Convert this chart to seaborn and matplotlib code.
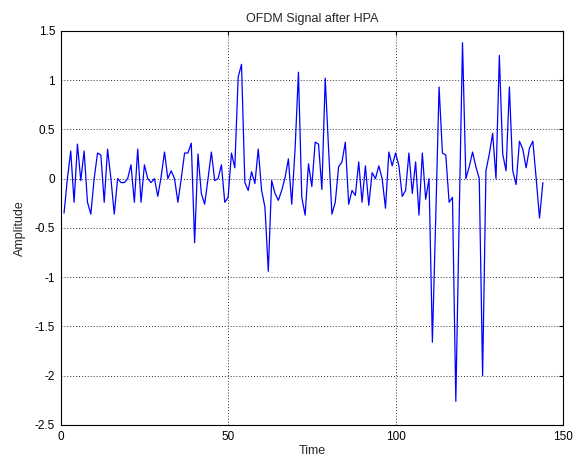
import numpy as np
import pandas as pd
import seaborn as sns
import matplotlib
matplotlib.use("Agg")
import matplotlib.pyplot as plt

# sample index (1..144) and HPA output amplitude
time = list(range(1, 145))
amplitude = [
    -0.35, 0.0, 0.28, -0.24, 0.35, -0.02, 0.28, -0.24, -0.36, 0.0,
    0.26, 0.24, -0.24, 0.30, 0.0, -0.36, 0.0, -0.04, -0.04, 0.0,
    0.14, -0.24, 0.30, -0.24, 0.14, 0.0, -0.04, 0.0, -0.18, 0.02,
    0.27, 0.0, 0.08, 0.0, -0.24, 0.0, 0.26, 0.26, 0.36, -0.65,
    0.25, -0.15, -0.26, 0.0, 0.27, -0.02, 0.0, 0.14, -0.24, -0.19,
    0.26, 0.11, 1.03, 1.16, -0.04, -0.12, 0.07, -0.05, 0.30, -0.12,
    -0.29, -0.94, -0.02, -0.15, -0.22, -0.12, 0.01, 0.20, -0.26, 0.30,
    1.08, -0.19, -0.37, 0.15, -0.08, 0.37, 0.35, -0.11, 1.02, 0.30,
    -0.36, -0.24, 0.12, 0.17, 0.37, -0.26, -0.12, -0.17, 0.17, -0.24,
    0.13, -0.27, 0.06, 0.0, 0.13, 0.0, -0.30, 0.27, 0.13, 0.26,
    0.13, -0.18, -0.12, 0.26, -0.15, 0.17, -0.37, 0.26, -0.21, 0.0,
    -1.66, -0.40, 0.93, 0.26, 0.24, -0.24, -0.19, -2.26, -0.40, 1.38,
    0.0, 0.12, 0.27, 0.12, 0.0, -2.0, 0.08, 0.25, 0.46, 0.0,
    1.25, 0.25, 0.08, 0.93, 0.08, -0.06, 0.38, 0.30, 0.11, 0.31,
    0.38, 0.0, -0.40, -0.04,
]
x_ticks = [0, 50, 100, 150]
y_ticks = [-2.5, -2, -1.5, -1, -0.5, 0, 0.5, 1, 1.5]
y_tick_labels = ["-2.5", "-2", "-1.5", "-1", "-0.5", "0", "0.5", "1", "1.5"]

df = pd.DataFrame({"Time": time, "Amplitude": amplitude})

sns.set_style("white")
plt.rcParams["font.family"] = ["Liberation Sans", "DejaVu Sans"]

fig = plt.figure(figsize=(5.78, 4.67), dpi=100)
ax = fig.add_axes([0.105, 0.09, 0.869, 0.844])

sns.lineplot(data=df, x="Time", y="Amplitude", color="#0000ff", linewidth=0.9, ax=ax)

ax.set_xlim(0, 150)
ax.set_ylim(-2.5, 1.5)
ax.set_xticks(x_ticks)
ax.set_yticks(y_ticks)
ax.set_yticklabels(y_tick_labels)
ax.grid(True, linestyle=(0, (1, 2)), color="#333333", linewidth=0.7)
ax.tick_params(direction="in", length=3, width=0.8, top=True, right=True,
               labelsize=8.5, colors="black", pad=4)
for s in ax.spines.values():
    s.set_color("black")
    s.set_linewidth(0.8)

ax.set_title("OFDM Signal after HPA", fontsize=9, pad=6)
ax.set_xlabel("Time", fontsize=9, labelpad=2)
ax.set_ylabel("Amplitude", fontsize=9, labelpad=6)

fig.savefig("out.png", dpi=100)
